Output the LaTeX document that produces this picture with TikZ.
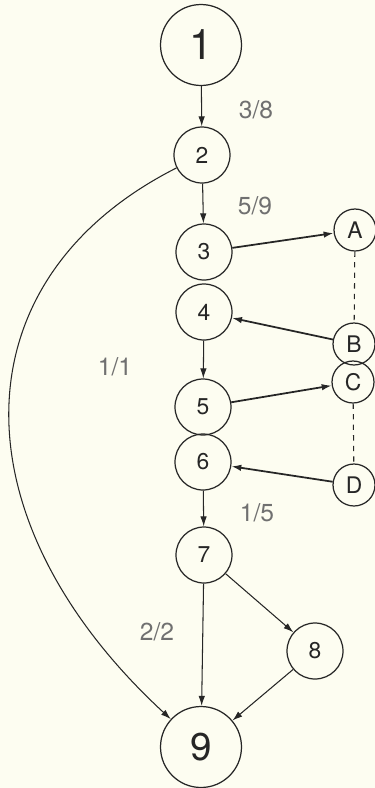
\documentclass[tikz,border=0pt]{standalone}
\usepackage{fontspec}
\setmainfont{TeX Gyre Heros}
\usepackage{xcolor}
\usetikzlibrary{arrows.meta}
\definecolor{paper}{HTML}{FDFDF1}
\definecolor{ink}{HTML}{262626}
\definecolor{pencil}{HTML}{707070}

\begin{document}
\begin{tikzpicture}[
		x=0.02cm, y=-0.02cm,
		line width=0.7pt,
		ink,
		state/.style={circle, draw, inner sep=0pt, minimum size=1.12cm, font=\fontsize{13}{13}\selectfont},
		bigstate/.style={state, minimum size=1.62cm, font=\fontsize{24}{24}\selectfont},
		side/.style={state, minimum size=0.84cm},
		flow/.style={-{Latex[length=2mm,width=1.3mm]}, line width=0.6pt},
		jump/.style={flow, line width=1pt},
		count/.style={pencil, font=\fontsize{14}{14}\selectfont}
		]
		\fill[paper] (0,0) rectangle (375,788);
		\useasboundingbox (0,0) rectangle (375,788);
		
		% main chain
		\node[bigstate] (n1) at (201,45) {1};
		\node[state] (n2) at (202,155) {2};
		\node[state] (n3) at (204,252) {3};
		\node[state] (n4) at (204,312) {4};
		\node[state] (n5) at (203,407) {5};
		\node[state] (n6) at (203,462) {6};
		\node[state] (n7) at (204,555) {7};
		\node[state] (n8) at (315,651) {8};
		\node[bigstate, font=\fontsize{22}{22}\selectfont] (n9) at (201,747) {9};
		
		% side branches
		\node[side] (a) at (355,230) {A};
		\node[side] (b) at (354,344) {B};
		\node[side] (c) at (353,382) {C};
		\node[side] (d) at (354,485) {D};
		
		\draw[flow] (n1) -- (n2);
		\draw[flow] (n2) -- (n3);
		\draw[flow] (n4) -- (n5);
		\draw[flow] (n6) -- (n7);
		\draw[flow] (n7) -- (n9);
		\draw[flow] (n7) -- (n8);
		\draw[flow] (n8) -- (n9);
		\draw[flow] (n2) .. controls (-45,280) and (-45,520) .. (n9);
		
		\draw[jump] (n3) -- (a);
		\draw[jump] (b) -- (n4);
		\draw[jump] (n5) -- (c);
		\draw[jump] (d) -- (n6);
		
		\draw[dashed, line width=0.6pt] (a) -- (b);
		\draw[dashed, line width=0.6pt] (c) -- (d);
		
		% flow counts
		\node[count] (l38) at (256,110) {3/8};
		\node[count] (l59) at (255,206) {5/9};
		\node[count] (l11) at (115,367) {1/1};
		\node[count] (l15) at (257,513) {1/5};
		\node[count] (l22) at (157,632) {2/2};
		
	\end{tikzpicture}
\end{document}
